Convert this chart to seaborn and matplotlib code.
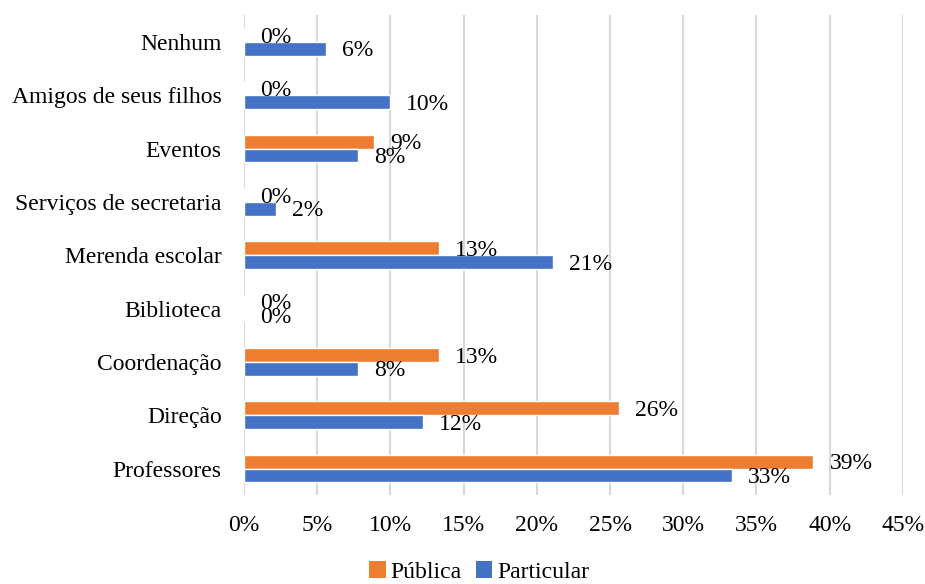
import matplotlib
matplotlib.use("Agg")
import matplotlib.pyplot as plt
import seaborn as sns
import pandas as pd
from matplotlib.patches import Patch

categories = ["Nenhum", "Amigos de seus filhos", "Eventos", "Serviços de secretaria",
              "Merenda escolar", "Biblioteca", "Coordenação", "Direção", "Professores"]
publica = [0.0, 0.0, 8.9, 0.0, 13.3, 0.0, 13.3, 25.6, 38.9]
particular = [5.6, 10.0, 7.8, 2.2, 21.1, 0.0, 7.8, 12.2, 33.3]
series_names = ["Pública", "Particular"]
colors = ["#ED7D31", "#4472C4"]
xticks = [0, 5, 10, 15, 20, 25, 30, 35, 40, 45]

df = pd.DataFrame({
    "cat": categories * 2,
    "val": publica + particular,
    "serie": [series_names[0]] * len(categories) + [series_names[1]] * len(categories),
})

sns.set_theme(style="white")
plt.rcParams["font.family"] = ["Liberation Serif", "DejaVu Serif"]
plt.rcParams["text.color"] = "black"
plt.rcParams["xtick.color"] = "black"
plt.rcParams["ytick.color"] = "black"

fig = plt.figure(figsize=(9.25, 5.84), dpi=100)
ax = fig.add_axes([0.2638, 0.152, 0.976 - 0.2638, 0.974 - 0.152])

sns.barplot(data=df, x="val", y="cat", hue="serie", order=categories,
            hue_order=series_names, palette=colors, orient="h",
            width=0.52, gap=0, saturation=1, ax=ax, legend=False,
            errorbar=None)

ax.set_xlim(0, 45)
ax.set_xticks(xticks)
ax.set_xticklabels([f"{t}%" for t in xticks])
ax.grid(axis="x", color="#d9d9d9", linewidth=1.5)
ax.set_axisbelow(True)
for s in ax.spines.values():
    s.set_visible(False)
ax.set_xlabel("")
ax.set_ylabel("")
ax.tick_params(axis="y", length=0, pad=16, labelsize=17, labelcolor="black")
ax.tick_params(axis="x", length=0, pad=14, labelsize=17, labelcolor="black")

for container in ax.containers:
    for bar in container:
        w = bar.get_width()
        yc = bar.get_y() + bar.get_height() / 2
        ax.annotate(f"{w:.0f}%", xy=(w, yc), xytext=(11.5, -1.5),
                    textcoords="offset points", ha="left", va="center",
                    fontsize=17, color="black")

handles = [Patch(facecolor=c, edgecolor="none") for c in colors]
fig.legend(handles, series_names, loc="lower center", bbox_to_anchor=(0.518, -0.034),
           ncol=2, frameon=False, fontsize=17, handlelength=0.7, handleheight=0.7,
           handletextpad=0.2, columnspacing=0.6, labelcolor="black")

fig.savefig("out.png", dpi=100)
